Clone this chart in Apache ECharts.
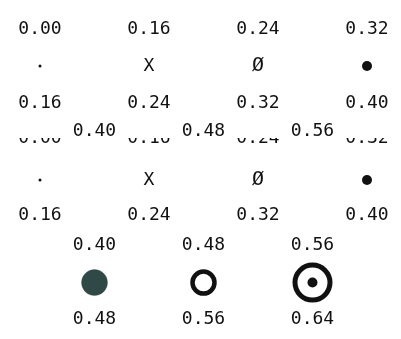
<!DOCTYPE html>
<html>
<head>
<meta charset="utf-8">
<script src="https://cdn.jsdelivr.net/npm/echarts@6/dist/echarts.min.js"></script>
<style>
  html, body { margin: 0; padding: 0; background: #ffffff; }
  #chart { width: 401px; height: 339px; }
</style>
</head>
<body>
<div id="chart"></div>
<script>
// Class bounds for each marker class (lower bound shown above, upper bound below)
const lowerBounds = [0.00, 0.16, 0.24, 0.32, 0.40, 0.48, 0.56];
const upperBounds = [0.16, 0.24, 0.32, 0.40, 0.48, 0.56, 0.64];
// Character markers for the classes drawn as text
const markerGlyphs = ['', 'X', '\u00d8', '', '', '', ''];
// Which classes appear in each legend row
const rowClasses = [[0, 1, 2, 3], [0, 1, 2, 3], [4, 5, 6]];

const FONT = '"DejaVu Sans Mono", monospace';
const TEXT = '#111111';

// Layout: column slots (half-column steps), row levels and label offsets (axis units)
const rowSlots = [[0, 2, 4, 6], [0, 2, 4, 6], [1, 3, 5]];
const rowLevels = [0, 1, 1.9];
const topOffsets = [0.325, 0.368, 0.33];
const bottomOffsets = [0.325, 0.31, 0.32];
// Second-row header labels repeated above the lower block
const headerLevel = 0.57;

// Marker styling per class
const markerStyle = [
  { symbolSize: 3, itemStyle: { color: '#111', opacity: 1 } },
  null,
  null,
  { symbolSize: 10, itemStyle: { color: '#111', opacity: 1 } },
  { symbolSize: 26, itemStyle: { color: '#2e4946', opacity: 1, borderColor: 'rgba(46,73,70,0.35)', borderWidth: 1 } },
  { symbolSize: 22, itemStyle: { color: 'rgba(0,0,0,0)', opacity: 1, borderColor: '#111', borderWidth: 4.5 } },
  { symbolSize: 35, itemStyle: { color: 'rgba(0,0,0,0)', opacity: 1, borderColor: '#111', borderWidth: 5 } }
];

function fmt(v) { return v.toFixed(2); }

function textPoint(x, y, text, size) {
  return {
    value: [x, y],
    symbolSize: 0,
    label: {
      show: true, position: 'inside', formatter: text,
      fontFamily: FONT, fontSize: size || 18, color: TEXT, opacity: 1,
      align: 'center', verticalAlign: 'middle'
    }
  };
}

function textSeries(points, z) {
  return {
    type: 'scatter', z: z, silent: true, symbol: 'circle',
    itemStyle: { opacity: 1 },
    emphasis: { disabled: true },
    data: points
  };
}

function markerSeries(r, z) {
  const pts = [];
  rowClasses[r].forEach(function (c, i) {
    const st = markerStyle[c];
    if (st) {
      pts.push({ value: [rowSlots[r][i], rowLevels[r]], symbolSize: st.symbolSize, itemStyle: st.itemStyle });
    }
  });
  return { type: 'scatter', z: z, silent: true, symbol: 'circle', emphasis: { disabled: true }, data: pts };
}

function topLabels(r, level) {
  return rowClasses[r].map(function (c, i) {
    return textPoint(rowSlots[r][i], level - topOffsets[r], fmt(lowerBounds[c]));
  });
}
function glyphs(r) {
  const out = [];
  rowClasses[r].forEach(function (c, i) {
    if (markerGlyphs[c]) {
      out.push(textPoint(rowSlots[r][i], rowLevels[r], markerGlyphs[c], c === 2 ? 20 : 18));
    }
  });
  return out;
}
function bottomLabels(r) {
  return rowClasses[r].map(function (c, i) {
    return textPoint(rowSlots[r][i], rowLevels[r] + bottomOffsets[r], fmt(upperBounds[c]));
  });
}

// Inner dot of the bull's-eye marker
const bullseyeDot = {
  type: 'scatter', z: 7, silent: true, symbol: 'circle', symbolSize: 10,
  itemStyle: { color: '#111', opacity: 1 },
  emphasis: { disabled: true },
  data: [[rowSlots[2][2], rowLevels[2]]]
};

const series = [
  // upper block
  textSeries(topLabels(0, rowLevels[0]).concat(glyphs(0), bottomLabels(0)), 2),
  markerSeries(0, 2),
  // repeated block, its header partly masked
  textSeries(topLabels(1, rowLevels[1]), 2),
  textSeries(glyphs(1).concat(bottomLabels(1)), 4),
  markerSeries(1, 4),
  // header of the lower row drawn over the mask
  textSeries(topLabels(2, headerLevel + topOffsets[2]), 5),
  // lower row
  textSeries(topLabels(2, rowLevels[2]).concat(bottomLabels(2)), 5),
  markerSeries(2, 6),
  bullseyeDot
];

const chart = echarts.init(document.getElementById('chart'), null, { renderer: 'canvas' });
chart.setOption({
  animation: false,
  backgroundColor: '#ffffff',
  grid: { left: 0, right: 0, top: 0, bottom: 0 },
  xAxis: { type: 'value', min: -0.734, max: 6.624, show: false },
  yAxis: { type: 'value', inverse: true, min: -0.579, max: 2.395, show: false },
  graphic: [{
    type: 'rect', z: 3, silent: true,
    shape: { x: 0, y: 113, width: 401, height: 25 },
    style: { fill: '#ffffff' }
  }],
  series: series
});
</script>
</body>
</html>
